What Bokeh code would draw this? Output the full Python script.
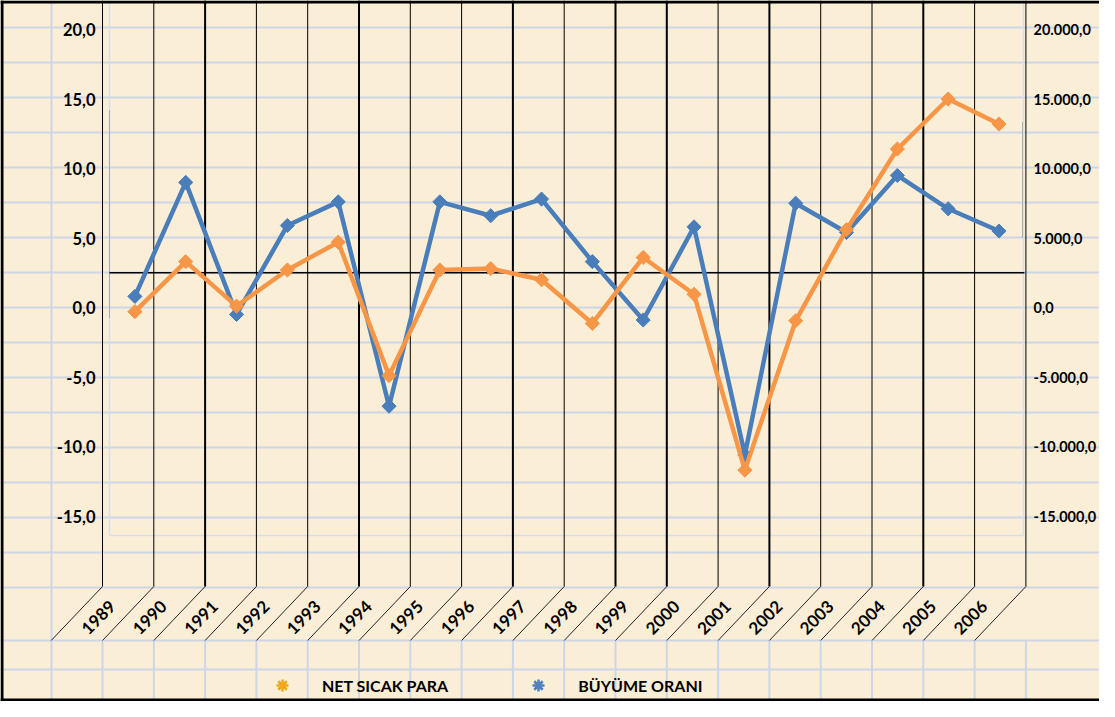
import numpy as np
from bokeh.plotting import figure
from bokeh.models import Range1d, LinearAxis, FixedTicker, Legend, LegendItem
from bokeh.embed import file_html
from bokeh.resources import INLINE
from bokeh.core.properties import value

# ---------------- data ----------------
years = ["1989", "1990", "1991", "1992", "1993", "1994", "1995", "1996", "1997",
         "1998", "1999", "2000", "2001", "2002", "2003", "2004", "2005", "2006"]
buyume_orani = [0.8, 9.0, -0.5, 5.9, 7.6, -7.1, 7.6, 6.6, 7.8,
                3.3, -0.9, 5.8, -10.6, 7.5, 5.4, 9.5, 7.1, 5.5]
net_sicak_para = [-300, 3300, 100, 2700, 4700, -4900, 2700, 2800, 2000,
                  -1150, 3600, 950, -11700, -950, 5600, 11400, 15000, 13200]
left_ticks = [-15, -10, -5, 0, 5, 10, 15, 20]
left_labels = ["-15,0", "-10,0", "-5,0", "0,0", "5,0", "10,0", "15,0", "20,0"]
right_ticks = [-15000, -10000, -5000, 0, 5000, 10000, 15000, 20000]
right_labels = ["-15.000,0", "-10.000,0", "-5.000,0", "0,0", "5.000,0",
                "10.000,0", "15.000,0", "20.000,0"]
axis_cross = 2.5
legend_labels = ["NET SICAK PARA", "BÜYÜME ORANI"]

# ---------------- layout / style constants ----------------
W, H = 1099, 701
PX_X0, PX_X1 = 8, 1107          # page pixel extents (x)
PX_YB, PX_YT = 709, 8           # page pixel extents (y, bottom/top)
CAT0, CATW = 142.4, 50.83       # first category centre, category width (px)
ZERO, UNIT = 315.0, 13.9        # px of value 0, px per unit
COL0, COLW = 110.0, 51.3        # spreadsheet column lines
BLUE, ORANGE = "#4A7EBB", "#F79646"
GRID = "#CCD6E8"
BG = "#FBEED7"
FONT = value("Lato")


def dx(px):
    return (px - CAT0) / CATW


def dy(py):
    return (ZERO - py) / UNIT


p = figure(width=W, height=H, output_backend="svg", toolbar_location=None,
           x_range=Range1d(dx(PX_X0), dx(PX_X1)),
           y_range=Range1d(dy(PX_YB), dy(PX_YT)),
           x_axis_location=None, y_axis_location=None,
           min_border=0, outline_line_color=None,
           background_fill_color=BG, border_fill_color=BG)
p.extra_x_ranges = {"px": Range1d(PX_X0, PX_X1)}
p.extra_y_ranges = {"px": Range1d(PX_YB, PX_YT),
                    "right": Range1d(dy(PX_YB) * 1000, dy(PX_YT) * 1000)}
p.xgrid.grid_line_color = None
p.ygrid.grid_line_color = None

PX = dict(x_range_name="px", y_range_name="px")

# spreadsheet rows
row_ys = [35 * k for k in range(1, 18)] + [648, 677]
p.segment(x0=[PX_X0] * len(row_ys), x1=[PX_X1] * len(row_ys), y0=row_ys, y1=row_ys,
          line_color=GRID, line_width=2, **PX)
# spreadsheet column at the far left
p.segment(x0=[59], x1=[59], y0=[PX_YT], y1=[PX_YB], line_color=GRID, line_width=2, **PX)
# chart plot-area faint frame
p.segment(x0=[117, 117, 1031], x1=[117, 1031, 1031], y0=[PX_YT, 543, PX_YT], y1=[543, 543, 543],
          line_color="#D8DDE8", line_width=1.5, **PX)

col_xs = [COL0 + COLW * k for k in range(19)]
col_w = [1, 1, 2, 1, 1, 2, 1, 1, 2, 1, 2, 2, 1, 2, 1, 1, 2, 1, 1]
# lower light column lines
p.segment(x0=col_xs, x1=col_xs, y0=[648] * 19, y1=[PX_YB] * 19,
          line_color=GRID, line_width=2, **PX)
# black vertical cell borders
p.segment(x0=col_xs, x1=col_xs, y0=[PX_YT] * 19, y1=[594] * 19,
          line_color="black", line_width=col_w, **PX)
# diagonal borders of rotated label cells
p.segment(x0=[x - COLW for x in col_xs], x1=col_xs, y0=[648] * 19, y1=[594] * 19,
          line_color="#222222", line_width=1, **PX)

# faint dotted marks
p.segment(x0=[117, 1030], x1=[117, 1030], y0=[118, 130], y1=[325, 245],
          line_color="#777777", line_width=1, line_dash="1 1", **PX)

# outer border (left, top, bottom)
p.segment(x0=[9.5, PX_X0, PX_X0], x1=[9.5, PX_X1, PX_X1],
          y0=[PX_YT, 9.5, 707.5], y1=[PX_YB, 9.5, 707.5],
          line_color="black", line_width=3, **PX)

# category axis line
p.segment(x0=[-0.5], x1=[len(years) - 0.5], y0=[axis_cross], y1=[axis_cross],
          line_color="black", line_width=1.5)

# series
xs = np.arange(len(years))
p.line(xs, buyume_orani, line_color=BLUE, line_width=4.5)
p.scatter(xs, buyume_orani, marker="square", angle=np.pi / 4, size=10, color=BLUE)
p.line(xs, net_sicak_para, y_range_name="right", line_color=ORANGE, line_width=4.5)
p.scatter(xs, net_sicak_para, y_range_name="right", marker="square", angle=np.pi / 4,
          size=10, color=ORANGE)

# year labels in rotated cells
lab_x = [106 + COLW * k for k in range(len(years))]
p.text(x=lab_x, y=[625] * len(years), text=years, angle=np.pi / 4,
       text_font=FONT, text_font_style="bold", text_font_size="17px",
       text_align="center", text_baseline="middle", text_color="black", **PX)

# axes
def style_axis(ax, size):
    ax.axis_line_color = None
    ax.major_tick_line_color = None
    ax.minor_tick_line_color = None
    ax.major_label_text_font = "Lato"
    ax.major_label_text_font_style = "bold"
    ax.major_label_text_font_size = size
    ax.major_label_text_color = "black"
    ax.major_label_standoff = 2


la = LinearAxis(fixed_location=dx(111), ticker=FixedTicker(ticks=left_ticks),
                major_label_overrides=dict(zip(left_ticks, left_labels)))
style_axis(la, "16.5px")
p.add_layout(la, "left")
ra = LinearAxis(y_range_name="right", fixed_location=dx(1034),
                ticker=FixedTicker(ticks=right_ticks),
                major_label_overrides=dict(zip(right_ticks, right_labels)))
style_axis(ra, "14.5px")
ra.major_label_standoff = 1
p.add_layout(ra, "right")

# legend with asterisk markers
r_o = p.scatter(x=[np.nan], y=[np.nan], marker="asterisk", size=12,
                line_color="#F0A818", line_width=2.5)
r_b = p.scatter(x=[np.nan], y=[np.nan], marker="asterisk", size=12,
                line_color="#4F81BD", line_width=2.5)
leg = Legend(items=[LegendItem(label=legend_labels[0], renderers=[r_o]),
                    LegendItem(label=legend_labels[1], renderers=[r_b])],
             orientation="horizontal", location=(267, 1),
             glyph_width=30, glyph_height=30, label_standoff=25, spacing=75,
             padding=0, margin=0, background_fill_alpha=0, border_line_alpha=0,
             label_text_font="Lato", label_text_font_style="bold",
             label_text_font_size="16px", label_text_color="black")
p.add_layout(leg, "center")

open("out.html", "w").write(file_html(p, INLINE))
